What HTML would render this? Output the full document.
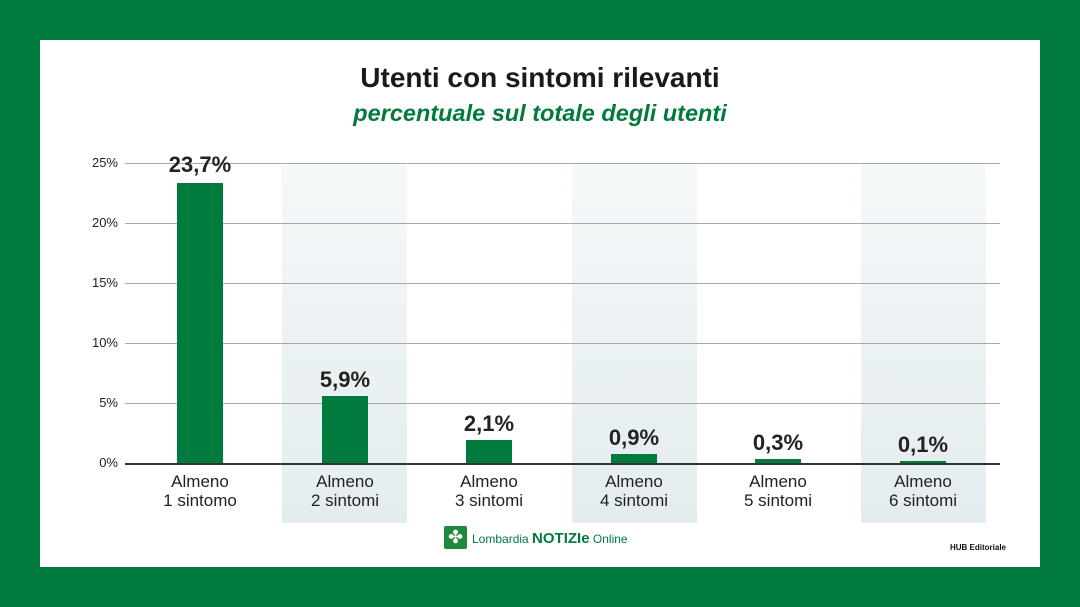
<!DOCTYPE html>
<html><head><meta charset="utf-8"><style>
body{margin:0;width:1080px;height:607px;background:#007a3d;position:relative;font-family:"Liberation Sans",sans-serif;overflow:hidden}
.panel{position:absolute;left:40px;top:40px;width:1000px;height:527px;background:#fff}
.a{position:absolute}
.t{left:0;width:1080px;text-align:center}
.gl{left:125px;width:875px;height:1px;background:#a8a8a8}
.yl{left:60px;width:58px;text-align:right;font-size:13px;color:#222}
.sh{top:165px;height:358px;width:125px;background:linear-gradient(#f4f8f9,#e3ecef)}
.bar{background:#007a3d;width:46px}
.v{width:140px;text-align:center;font-size:22px;font-weight:bold;color:#222}
.xl{width:140px;text-align:center;font-size:17px;line-height:19px;color:#222}
</style></head><body>
<div class="panel"></div>
<div class="a t" style="top:62px;font-size:28px;font-weight:bold;color:#1a1a1a">Utenti con sintomi rilevanti</div>
<div class="a t" style="top:100px;font-size:23.5px;font-weight:bold;font-style:italic;color:#007a3d">percentuale sul totale degli utenti</div>
<div class="a sh" style="left:282px"></div>
<div class="a sh" style="left:572px"></div>
<div class="a sh" style="left:861px"></div>
<div class="a gl" style="top:163px"></div><div class="a yl" style="top:155px">25%</div>
<div class="a gl" style="top:223px"></div><div class="a yl" style="top:215px">20%</div>
<div class="a gl" style="top:283px"></div><div class="a yl" style="top:275px">15%</div>
<div class="a gl" style="top:343px"></div><div class="a yl" style="top:335px">10%</div>
<div class="a gl" style="top:403px"></div><div class="a yl" style="top:395px">5%</div>
<div class="a yl" style="top:455px">0%</div>
<div class="a bar" style="left:177px;top:183px;height:280px"></div>
<div class="a bar" style="left:322px;top:396px;height:67px"></div>
<div class="a bar" style="left:466px;top:440px;height:23px"></div>
<div class="a bar" style="left:611px;top:454px;height:9px"></div>
<div class="a bar" style="left:755px;top:459px;height:4px"></div>
<div class="a bar" style="left:900px;top:461px;height:2px"></div>
<div class="a" style="left:125px;top:463px;width:875px;height:1.5px;background:#333"></div>
<div class="a v" style="left:130px;top:152px">23,7%</div>
<div class="a v" style="left:275px;top:367px">5,9%</div>
<div class="a v" style="left:419px;top:411px">2,1%</div>
<div class="a v" style="left:564px;top:425px">0,9%</div>
<div class="a v" style="left:708px;top:430px">0,3%</div>
<div class="a v" style="left:853px;top:432px">0,1%</div>
<div class="a xl" style="left:130px;top:472px">Almeno<br>1 sintomo</div>
<div class="a xl" style="left:275px;top:472px">Almeno<br>2 sintomi</div>
<div class="a xl" style="left:419px;top:472px">Almeno<br>3 sintomi</div>
<div class="a xl" style="left:564px;top:472px">Almeno<br>4 sintomi</div>
<div class="a xl" style="left:708px;top:472px">Almeno<br>5 sintomi</div>
<div class="a xl" style="left:853px;top:472px">Almeno<br>6 sintomi</div>
<div class="a" style="left:444px;top:526px;width:23px;height:23px;background:#1f8a3c;border-radius:2px;color:#fff;font-size:18px;line-height:23px;text-align:center">✤</div>
<div class="a" style="left:472px;top:530px;font-size:12px;color:#007a3d;white-space:nowrap">Lombardia <b style="font-size:15px">NOTIZIe</b> Online</div>
<div class="a" style="left:950px;top:543px;font-size:8px;font-weight:bold;color:#111">HUB Editoriale</div>
</body></html>
